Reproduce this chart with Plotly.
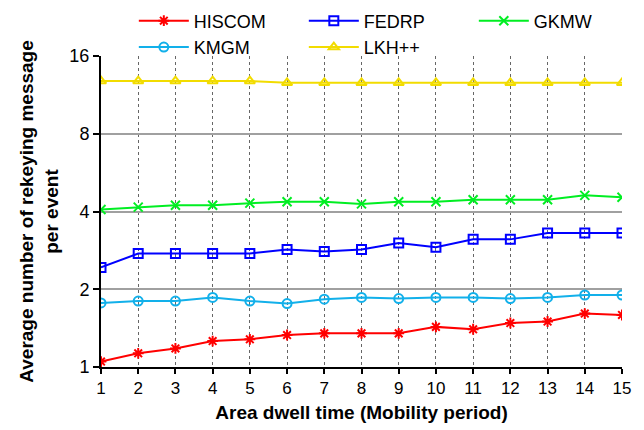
import plotly.graph_objects as go
import math

x_vals = list(range(1, 16))
hiscom = [1.05, 1.13, 1.18, 1.26, 1.28, 1.33, 1.35, 1.35, 1.35, 1.43, 1.40, 1.48, 1.50, 1.61, 1.59]
fedrp = [2.43, 2.75, 2.75, 2.75, 2.75, 2.85, 2.80, 2.85, 3.02, 2.91, 3.12, 3.12, 3.30, 3.30, 3.30]
gkmw = [4.07, 4.16, 4.23, 4.23, 4.31, 4.36, 4.36, 4.28, 4.36, 4.36, 4.44, 4.44, 4.44, 4.62, 4.54]
kmgm = [1.77, 1.80, 1.80, 1.86, 1.80, 1.76, 1.83, 1.86, 1.84, 1.86, 1.86, 1.84, 1.86, 1.90, 1.90]
lkh = [12.8, 12.8, 12.8, 12.8, 12.8, 12.6, 12.6, 12.6, 12.6, 12.6, 12.6, 12.6, 12.6, 12.6, 12.6]
y_ticks = [1, 2, 4, 8, 16]

series = [
    ("HISCOM", hiscom, "#FF0000", "asterisk-open", 9),
    ("FEDRP", fedrp, "#0000FF", "square-open", 9),
    ("GKMW", gkmw, "#00EE22", "x-thin-open", 9),
    ("KMGM", kmgm, "#12B0EA", "circle-open", 9),
    ("LKH++", lkh, "#F2DC00", "triangle-up-open", 9),
]

fig = go.Figure()
for name, ys, color, sym, size in series:
    fig.add_trace(go.Scatter(
        x=x_vals, y=ys, name=name, mode="lines+markers",
        line=dict(color=color, width=2),
        marker=dict(symbol=sym, size=size, color=color, line=dict(color=color, width=2)),
    ))

fig.update_layout(
    width=644, height=430,
    margin=dict(l=101, r=22, t=56, b=63, autoexpand=False),
    paper_bgcolor="white", plot_bgcolor="white",
    font=dict(family="Liberation Sans, Arial, sans-serif", color="black"),
    showlegend=True,
    legend=dict(
        orientation="h", x=0.063, y=1.172, xanchor="left", yanchor="top",
        entrywidth=105, entrywidthmode="pixels",
        font=dict(size=18), tracegroupgap=0, itemwidth=50,
        bgcolor="rgba(0,0,0,0)",
    ),
)
fig.update_xaxes(
    range=[1, 15], tickvals=x_vals, ticktext=[str(v) for v in x_vals],
    showline=True, linecolor="black", linewidth=2,
    ticks="outside", ticklen=5, tickwidth=1.5, tickcolor="black",
    tickfont=dict(size=17),
    showgrid=True, gridcolor="#666666", gridwidth=1.2, griddash="dot",
    zeroline=False,
    title=dict(text="<b>Area dwell time (Mobility period)</b>", font=dict(size=19), standoff=8),
)
fig.update_yaxes(
    type="log", range=[0, math.log10(16)],
    tickvals=y_ticks, ticktext=[str(v) for v in y_ticks],
    showline=True, linecolor="black", linewidth=2,
    ticks="outside", ticklen=6, tickwidth=1.5, tickcolor="black",
    tickfont=dict(size=18),
    showgrid=True, gridcolor="#A0A0A0", gridwidth=2,
    zeroline=False,
    title=dict(text="<b>Average number of rekeying message<br>per event</b>", font=dict(size=19), standoff=6),
)

fig.write_html("out.html")
